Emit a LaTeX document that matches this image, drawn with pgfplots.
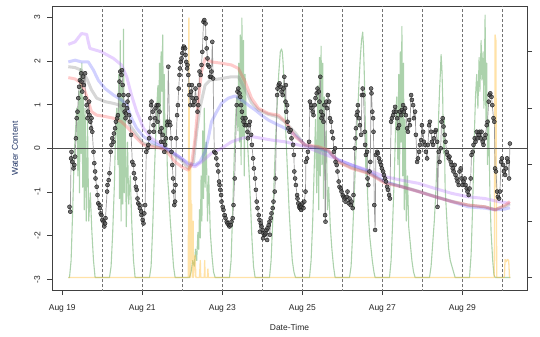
\documentclass[border=0pt]{standalone}
\usepackage{fontspec}
\setmainfont{Liberation Sans}
\usepackage{pgfplots}
\pgfplotsset{compat=1.18}
\definecolor{pargreen}{RGB}{90,165,90}
\definecolor{rainorange}{RGB}{255,190,60}
\definecolor{lpurple}{RGB}{170,90,255}
\definecolor{lblue}{RGB}{70,70,255}
\definecolor{lgray}{RGB}{140,140,140}
\definecolor{lred}{RGB}{255,70,70}
\definecolor{ylabblue}{RGB}{30,50,100}
\begin{document}
\begin{tikzpicture}
\begin{axis}[name=sec, at={(0,0)}, anchor=south west,
  width=475bp, height=283.3bp, scale only axis,
  xmin=-0.2575, xmax=11.6175, ymin=-0.222, ymax=4.80,
  axis x line=none, axis y line*=right,
  y axis line style={draw=none},
  ytick={0,1,2,3,4}, yticklabels={},
  tick align=outside, major tick length=5bp,
  tick style={draw=black!75, line width=0.7bp},
  clip=true]
\addplot[draw=pargreen, opacity=0.5, line width=1.1bp, line join=round] table {
0.15 0
0.18 0
0.22 0.3
0.26 1.2
0.30 2.2
0.33 2.6
0.36 3.0
0.39 1.8
0.41 3.3
0.43 1.5
0.45 3.7
0.47 2.2
0.49 3.8
0.51 1.6
0.53 3.2
0.55 1.2
0.57 3.0
0.60 1.0
0.63 2.8
0.66 1.0
0.70 1.5
0.74 0.8
0.78 0.3
0.82 0
1.18 0
1.22 0.2
1.26 0.8
1.30 1.6
1.33 2.5
1.36 3.0
1.39 2.0
1.41 3.6
1.43 1.4
1.45 4.2
1.47 1.0
1.49 3.4
1.51 1.3
1.53 4.4
1.55 1.5
1.57 3.0
1.60 0.9
1.63 2.4
1.66 1.3
1.70 1.8
1.74 0.9
1.78 0.3
1.82 0
2.18 0
2.22 0.2
2.26 0.9
2.30 1.8
2.33 2.4
2.36 3.0
2.39 3.4
2.41 2.6
2.43 3.8
2.45 2.9
2.47 4.0
2.49 3.3
2.51 4.3
2.53 2.5
2.55 3.6
2.57 2.2
2.60 2.8
2.63 1.8
2.66 1.5
2.70 1.0
2.74 0.6
2.78 0.2
2.82 0
3.18 0
3.22 0.1
3.26 0.3
3.30 0.2
3.33 0.5
3.36 0.3
3.39 0.8
3.41 0.5
3.43 1.2
3.45 0.7
3.47 1.8
3.49 1.0
3.51 2.6
3.53 1.4
3.55 3.0
3.57 1.6
3.60 2.4
3.63 1.0
3.66 1.8
3.70 0.8
3.74 0.4
3.78 0.1
3.82 0
4.18 0
4.22 0.3
4.26 1.2
4.30 2.2
4.33 2.8
4.36 3.2
4.39 2.6
4.41 3.8
4.43 2.4
4.45 4.3
4.47 2.0
4.49 4.6
4.51 2.5
4.53 4.2
4.55 1.8
4.57 3.6
4.60 2.8
4.63 2.4
4.66 2.0
4.70 1.4
4.74 0.7
4.78 0.2
4.82 0
5.18 0
5.22 0.3
5.26 1.0
5.30 1.8
5.33 2.4
5.36 2.9
5.39 3.3
5.41 3.6
5.43 3.8
5.45 4.0
5.48 4.05
5.50 4.0
5.52 3.8
5.54 3.5
5.56 3.1
5.58 2.7
5.61 2.2
5.64 1.7
5.67 1.2
5.71 0.7
5.75 0.3
5.79 0.1
5.83 0
6.18 0
6.22 0.3
6.26 1.0
6.30 2.0
6.33 2.8
6.36 1.5
6.39 3.4
6.41 1.2
6.43 3.9
6.45 1.8
6.47 4.1
6.49 2.0
6.51 3.8
6.53 1.4
6.55 3.2
6.57 1.8
6.60 2.6
6.63 1.2
6.66 1.6
6.70 0.9
6.74 0.5
6.78 0.2
6.82 0
7.18 0
7.22 0.2
7.26 0.8
7.30 1.5
7.33 2.0
7.36 2.6
7.39 3.0
7.42 3.5
7.45 3.9
7.48 4.2
7.51 4.35
7.53 4.1
7.55 3.6
7.57 3.0
7.59 1.8
7.61 2.6
7.63 1.5
7.66 1.0
7.69 0.7
7.72 0.5
7.75 0.3
7.79 0.1
7.82 0
8.18 0
8.22 0.3
8.26 1.0
8.30 1.8
8.33 2.6
8.36 3.2
8.39 2.0
8.41 3.6
8.43 1.6
8.45 4.0
8.47 2.4
8.49 4.45
8.51 1.8
8.53 3.8
8.55 1.2
8.57 2.8
8.60 1.0
8.63 1.8
8.66 0.9
8.70 0.6
8.74 0.3
8.78 0.1
8.82 0
9.18 0
9.22 0.2
9.26 0.6
9.30 1.0
9.33 1.4
9.36 1.9
9.39 2.4
9.41 2.9
9.43 3.3
9.45 3.6
9.47 3.95
9.49 3.7
9.51 3.2
9.53 2.2
9.55 2.8
9.57 1.6
9.60 1.2
9.63 0.8
9.66 0.5
9.70 0.3
9.74 0.2
9.78 0.1
9.82 0
10.18 0
10.22 0.4
10.26 1.3
10.30 2.5
10.33 3.2
10.36 3.6
10.39 3.0
10.42 3.9
10.44 3.3
10.47 4.2
10.49 3.5
10.52 4.0
10.54 3.0
10.57 4.65
10.59 2.8
10.61 3.8
10.63 2.0
10.66 2.8
10.69 1.5
10.72 0.8
10.76 0.3
10.79 0.05
10.82 0
11.20 0
};
\addplot[draw=rainorange, opacity=0.45, line width=1.3bp, line join=round] table {
0.15 0
3.15 0
3.165 4.6
3.18 0
3.20 0
3.21 2.0
3.22 0.3
3.235 1.3
3.25 0
3.27 1.0
3.28 0
3.32 0.4
3.34 0
3.43 0
3.45 0.3
3.46 0
3.55 0
3.56 0.3
3.57 0
3.63 0
3.64 0.15
3.65 0
10.80 0
10.82 4.3
10.84 4.2
10.86 0
11.05 0
11.07 0.32
11.10 0.28
11.13 0.32
11.16 0.30
11.18 0
11.20 0
};
\end{axis}
\begin{axis}[name=main, at={(0,0)}, anchor=south west,
  width=475bp, height=283.3bp, scale only axis,
  xmin=-0.2575, xmax=11.6175, ymin=-3.245, ymax=3.245,
  axis line style={draw=black!75, line width=0.8bp},
  tick align=outside, major tick length=5bp,
  tick style={draw=black!75, line width=0.7bp},
  xtick pos=lower, ytick pos=left,
  xtick={0,2,4,6,8,10},
  xticklabels={Aug 19,Aug 21,Aug 23,Aug 25,Aug 27,Aug 29},
  ytick={-3,-2,-1,0,1,2,3},
  yticklabels={-3,-2,-1,0,1,2,3},
  ticklabel style={font=\fontsize{8.5}{10}\selectfont, text=black!85},
  xticklabel style={yshift=-6bp},
  yticklabel style={rotate=90, anchor=south, inner ysep=6.5bp},
  xlabel={Date-Time}, ylabel={Water Content},
  label style={font=\fontsize{8.5}{10}\selectfont},
  xlabel style={at={(axis description cs:0.5,-0.1306)}, anchor=center, text=black!85},
  ylabel style={at={(axis description cs:-0.0779,0.5)}, anchor=center, text=ylabblue},
  clip=true]
\pgfplotsinvokeforeach{1,2,3,4,5,6,7,8,9,10,11}{
  \addplot[draw=black!55, line width=0.6bp, dash pattern=on 3bp off 2bp] coordinates {(#1,-3.3) (#1,3.3)};
}
\addplot[draw=black!70, line width=0.8bp] coordinates {(-0.3,0) (11.7,0)};
\addplot[draw=black!40, line width=0.7bp, mark=*, mark size=2bp,
  mark options={draw=black!90, fill=black!70, fill opacity=0.75, line width=0.4bp}] table {
0.18 -1.34
0.20 -1.45
0.22 -0.23
0.23 -0.08
0.25 -0.31
0.28 -0.46
0.30 -0.38
0.32 -0.19
0.34 0.23
0.36 0.69
0.38 0.84
0.40 1.15
0.42 1.41
0.44 1.56
0.47 1.72
0.48 1.53
0.50 1.30
0.52 1.64
0.54 1.45
0.57 1.72
0.58 1.15
0.61 0.99
0.63 0.69
0.64 0.84
0.67 1.07
0.68 0.76
0.70 0.61
0.72 0.46
0.73 0.69
0.75 0.38
0.78 -0.08
0.80 -0.34
0.82 -0.53
0.83 -0.69
0.86 -0.88
0.88 -1.07
0.90 -1.26
0.93 -1.30
0.94 -1.37
0.96 -1.49
0.98 -1.53
1.00 -1.64
1.03 -1.68
1.05 -1.79
1.07 -1.72
1.08 -1.60
1.12 -0.99
1.13 -0.84
1.16 -0.73
1.18 -0.57
1.21 -0.08
1.23 0.08
1.25 0.23
1.28 0.15
1.29 0.34
1.32 0.46
1.34 0.61
1.37 0.69
1.39 0.76
1.42 1.22
1.43 1.53
1.45 1.76
1.48 1.68
1.49 1.79
1.51 1.45
1.53 1.22
1.54 0.99
1.56 0.84
1.58 0.69
1.59 0.80
1.62 0.92
1.63 1.07
1.65 1.22
1.67 0.76
1.69 0.61
1.72 0.31
1.75 -0.31
1.78 -0.38
1.79 -0.57
1.82 -0.69
1.84 -0.88
1.86 -0.95
1.88 -1.15
1.90 -1.26
1.93 -1.30
1.94 -1.37
1.97 -1.45
1.98 -1.53
2.01 -1.64
2.03 -1.72
2.05 -1.49
2.07 -1.30
2.10 -0.08
2.13 0.00
2.15 0.08
2.17 0.23
2.18 0.38
2.20 0.69
2.22 0.99
2.23 1.07
2.26 0.84
2.28 0.53
2.29 0.38
2.32 0.69
2.33 0.92
2.36 0.99
2.38 0.61
2.40 0.99
2.43 0.84
2.44 0.38
2.47 0.15
2.48 0.46
2.51 0.31
2.53 0.15
2.55 -0.08
2.57 0.08
2.59 0.23
2.62 0.53
2.63 0.61
2.65 1.87
2.68 0.61
2.70 0.53
2.72 0.23
2.73 -0.08
2.75 -0.38
2.77 -0.69
2.78 -0.99
2.80 -1.30
2.82 -1.22
2.83 -0.84
2.85 0.23
2.87 0.76
2.89 0.99
2.91 1.37
2.93 1.68
2.94 1.83
2.96 1.98
2.98 2.06
3.00 2.18
3.02 2.29
3.04 2.33
3.07 2.29
3.08 2.14
3.10 1.98
3.12 1.83
3.13 1.91
3.15 1.68
3.17 1.45
3.18 1.22
3.20 0.99
3.22 1.30
3.24 1.45
3.26 1.15
3.28 0.99
3.30 1.07
3.33 1.37
3.35 1.15
3.38 0.84
3.40 0.99
3.42 1.45
3.43 1.76
3.46 1.68
3.48 1.91
3.50 2.21
3.53 2.90
3.55 2.94
3.58 2.86
3.59 2.52
3.61 2.29
3.63 2.06
3.64 1.91
3.67 1.87
3.69 1.64
3.72 1.64
3.73 1.76
3.75 2.44
3.77 1.60
3.80 -0.08
3.83 -0.11
3.85 -0.23
3.88 -0.38
3.90 -0.53
3.92 -0.76
3.93 -0.84
3.95 -0.95
3.97 -1.07
3.98 -1.22
4.01 -1.34
4.03 -1.41
4.06 -1.53
4.08 -1.60
4.11 -1.68
4.13 -1.72
4.16 -1.76
4.18 -1.79
4.21 -1.76
4.23 -1.68
4.26 -1.60
4.28 -1.30
4.31 -0.69
4.36 0.99
4.38 1.30
4.40 1.37
4.43 1.26
4.45 1.18
4.47 0.99
4.49 0.84
4.51 0.69
4.53 0.61
4.56 0.53
4.58 0.69
4.60 0.53
4.63 0.38
4.64 0.23
4.67 0.53
4.69 0.61
4.72 0.31
4.74 0.08
4.77 -0.23
4.79 -0.46
4.82 -0.69
4.84 -0.95
4.86 -1.22
4.88 -1.37
4.91 -1.53
4.93 -1.64
4.94 -1.91
4.96 -1.72
4.98 -1.79
5.01 -1.87
5.02 -2.06
5.03 -1.95
5.06 -1.98
5.08 -1.95
5.11 -1.87
5.12 -2.10
5.13 -1.83
5.16 -1.76
5.18 -1.68
5.19 -1.98
5.21 -1.60
5.23 -1.49
5.26 -1.37
5.28 -1.22
5.31 -0.99
5.33 -0.69
5.37 1.22
5.38 1.37
5.41 1.45
5.43 1.49
5.46 1.41
5.48 1.30
5.51 1.22
5.53 1.37
5.55 1.64
5.58 1.07
5.59 1.45
5.60 0.84
5.62 0.99
5.63 0.61
5.65 0.46
5.68 0.38
5.71 0.42
5.73 0.23
5.77 0.08
5.79 -0.15
5.80 -0.53
5.82 -0.69
5.84 -0.84
5.87 -1.07
5.88 -1.15
5.90 -1.26
5.92 -1.34
5.94 -1.37
5.95 -1.30
5.97 -1.41
5.98 -1.34
6.00 -1.26
6.03 -1.37
6.05 -1.22
6.08 -0.99
6.09 -0.31
6.12 -0.23
6.14 -0.08
6.17 0.15
6.19 1.07
6.22 0.99
6.23 0.92
6.26 0.84
6.28 0.76
6.31 0.99
6.33 1.15
6.36 1.26
6.38 1.37
6.41 1.30
6.43 1.07
6.45 1.64
6.47 0.84
6.48 0.69
6.51 0.76
6.53 0.61
6.55 0.99
6.57 -1.53
6.58 -1.68
6.60 1.07
6.62 0.92
6.64 1.22
6.67 1.07
6.69 0.69
6.72 0.61
6.74 0.38
6.77 0.23
6.79 -0.08
6.82 0.00
6.83 -0.31
6.86 -0.38
6.88 -0.53
6.91 -0.76
6.93 -0.88
6.96 -0.92
6.98 -0.99
7.01 -1.07
7.03 -1.11
7.06 -1.15
7.08 -1.22
7.11 -1.11
7.13 -0.99
7.16 -1.26
7.18 -1.15
7.21 -1.30
7.23 -1.22
7.26 -1.37
7.28 -1.07
7.31 0.00
7.33 0.23
7.34 0.46
7.36 0.76
7.38 0.84
7.39 0.99
7.42 0.69
7.44 0.53
7.47 0.31
7.49 1.22
7.51 1.37
7.53 1.22
7.56 0.38
7.57 0.08
7.59 -0.15
7.62 -0.08
7.63 -0.69
7.65 -0.84
7.68 -0.53
7.70 -0.31
7.72 1.37
7.73 1.26
7.75 0.84
7.77 0.69
7.78 0.38
7.80 -1.30
7.82 -1.87
7.84 -0.15
7.87 -0.08
7.89 -0.11
7.92 -0.23
7.94 -0.31
7.97 -0.38
7.99 -0.46
8.02 -0.53
8.04 -0.61
8.07 -0.69
8.09 -0.76
8.12 -0.88
8.14 -0.95
8.17 -1.07
8.19 -1.15
8.22 0.61
8.24 0.69
8.27 0.76
8.29 0.84
8.32 0.95
8.34 0.84
8.37 0.69
8.39 0.46
8.42 0.53
8.44 0.84
8.47 0.76
8.49 0.88
8.52 0.99
8.54 0.84
8.57 0.92
8.59 0.76
8.62 0.46
8.64 0.38
8.67 0.65
8.69 0.53
8.72 1.22
8.74 1.11
8.77 0.99
8.79 0.69
8.82 0.84
8.84 0.31
8.87 -0.31
8.89 -0.23
8.92 -0.08
8.94 0.08
8.97 0.19
8.99 0.53
9.02 0.38
9.04 0.15
9.07 0.08
9.09 -0.08
9.12 -0.23
9.14 0.08
9.17 0.53
9.19 0.61
9.22 0.38
9.24 0.15
9.27 0.08
9.29 0.23
9.32 0.38
9.34 0.42
9.37 0.15
9.38 -1.34
9.41 -0.08
9.43 -0.31
9.46 0.00
9.48 0.61
9.51 0.69
9.53 0.50
9.56 0.31
9.58 0.15
9.61 -0.08
9.63 -0.15
9.66 -0.23
9.68 -0.19
9.71 -0.31
9.73 -0.38
9.76 -0.46
9.78 -0.53
9.81 -0.38
9.83 -0.61
9.86 -0.69
9.88 -0.76
9.91 -0.84
9.93 -0.53
9.96 -0.46
9.98 -0.69
10.01 -0.84
10.03 -0.76
10.06 -0.69
10.08 -0.84
10.11 -0.92
10.13 -0.99
10.16 -1.07
10.18 -0.92
10.21 -0.69
10.23 -0.15
10.26 -0.08
10.28 0.08
10.31 0.23
10.33 0.15
10.36 0.38
10.38 0.23
10.41 0.31
10.43 0.38
10.46 0.23
10.48 0.38
10.51 0.15
10.53 0.08
10.56 0.23
10.58 0.31
10.61 0.53
10.63 0.61
10.66 1.07
10.68 1.22
10.70 1.26
10.73 1.18
10.75 0.99
10.78 0.69
10.80 0.61
10.82 -0.46
10.84 -0.53
10.87 -0.99
10.89 -1.11
10.92 -1.15
10.94 -0.99
10.97 -0.31
10.99 -0.23
11.02 -0.38
11.04 -0.53
11.07 -0.61
11.09 -0.46
11.12 -0.23
11.14 -0.31
11.17 -0.69
11.19 0.11
};
\addplot[draw=lpurple, opacity=0.28, line width=3bp, line join=round] table {
0.15 2.38
0.32 2.44
0.42 2.56
0.48 2.63
0.61 2.61
0.65 2.44
0.69 2.29
0.98 2.21
1.28 2.06
1.48 1.91
1.61 1.64
1.73 1.22
1.86 0.84
2.03 0.46
2.23 0.23
2.48 0.08
2.73 -0.08
2.98 -0.23
3.15 -0.38
3.32 -0.42
3.48 -0.31
3.73 -0.11
3.98 0.00
4.23 0.15
4.48 0.23
4.73 0.27
4.98 0.23
5.23 0.19
5.57 0.15
6.07 0.04
6.40 -0.08
6.82 -0.23
7.23 -0.38
7.65 -0.50
8.07 -0.65
8.48 -0.73
8.90 -0.80
9.32 -0.92
9.73 -1.03
10.15 -1.11
10.57 -1.15
10.90 -1.22
11.19 -1.26
};
\addplot[draw=lgray, opacity=0.35, line width=3bp, line join=round] table {
0.15 1.87
0.32 1.85
0.48 1.79
0.61 1.60
0.73 1.34
0.86 1.15
1.07 1.07
1.28 1.03
1.44 0.99
1.57 0.76
1.69 0.53
1.86 0.31
2.03 0.11
2.23 0.08
2.48 0.00
2.73 -0.11
2.98 -0.27
3.15 -0.46
3.28 -0.31
3.36 0.38
3.44 0.92
3.57 1.45
3.69 1.56
3.98 1.60
4.23 1.64
4.40 1.64
4.57 1.35
4.73 1.05
4.90 0.88
5.15 0.78
5.40 0.72
5.57 0.60
5.82 0.36
6.07 0.06
6.40 0.02
6.65 -0.06
6.90 -0.30
7.23 -0.44
7.65 -0.56
8.07 -0.78
8.48 -0.87
8.90 -0.98
9.32 -1.10
9.73 -1.21
10.15 -1.30
10.57 -1.34
10.82 -1.40
11.07 -1.33
11.19 -1.27
};
\addplot[draw=lblue, opacity=0.25, line width=3bp, line join=round] table {
0.15 1.98
0.32 2.02
0.48 1.98
0.65 1.98
0.78 1.79
0.90 1.56
1.07 1.37
1.28 1.22
1.48 1.11
1.61 0.99
1.73 0.69
1.86 0.46
2.03 0.27
2.23 0.15
2.48 0.04
2.73 -0.08
2.98 -0.23
3.15 -0.34
3.32 -0.38
3.44 -0.31
3.57 -0.08
3.65 0.23
3.73 0.61
3.86 0.84
3.98 1.03
4.15 1.15
4.32 1.20
4.48 1.11
4.65 0.99
4.82 0.88
4.98 0.76
5.15 0.65
5.32 0.57
5.48 0.50
5.65 0.42
5.82 0.30
6.07 0.08
6.40 0.00
6.65 -0.08
6.90 -0.27
7.23 -0.38
7.65 -0.53
8.07 -0.76
8.48 -0.88
8.90 -0.99
9.32 -1.11
9.73 -1.22
10.15 -1.34
10.57 -1.37
10.82 -1.41
11.07 -1.39
11.19 -1.36
};
\addplot[draw=lred, opacity=0.28, line width=3bp, line join=round] table {
0.15 1.62
0.32 1.59
0.48 1.49
0.57 1.30
0.65 1.07
0.73 0.84
0.86 0.76
1.07 0.73
1.28 0.69
1.48 0.61
1.65 0.46
1.82 0.27
2.03 0.08
2.23 0.04
2.48 0.00
2.65 -0.11
2.82 -0.31
2.98 -0.42
3.15 -0.50
3.23 -0.38
3.32 0.23
3.40 1.07
3.48 1.76
3.57 2.06
3.73 1.98
3.98 1.95
4.23 1.91
4.40 1.83
4.57 1.53
4.73 1.15
4.90 0.92
5.15 0.80
5.40 0.76
5.57 0.62
5.82 0.27
6.07 0.08
6.40 0.04
6.65 -0.04
6.90 -0.31
7.23 -0.46
7.65 -0.57
8.07 -0.80
8.48 -0.88
8.90 -0.99
9.32 -1.11
9.73 -1.22
10.15 -1.30
10.57 -1.34
10.82 -1.41
11.07 -1.30
11.19 -1.22
};
\end{axis}
\pgfresetboundingbox
\path[use as bounding box] ([xshift=-52bp,yshift=-47bp]main.south west) rectangle ([xshift=13bp,yshift=6.7bp]main.north east);
\end{tikzpicture}
\end{document}
